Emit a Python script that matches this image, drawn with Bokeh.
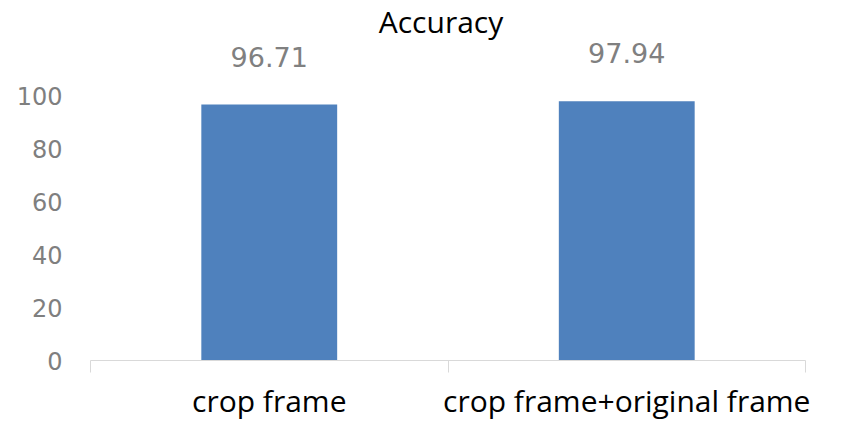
from bokeh.plotting import figure
from bokeh.models import (ColumnDataSource, Range1d, LinearAxis, FixedTicker, LabelSet, Label)
from bokeh.core.properties import value
from bokeh.embed import file_html
from bokeh.resources import INLINE

title = "Accuracy"
categories = ["crop frame", "crop frame+original frame"]
accuracy = [96.71, 97.94]
value_labels = ["96.71", "97.94"]
y_ticks = [0, 20, 40, 60, 80, 100]

# category slots: category i occupies [i, i+1] on the x axis
centers = [i + 0.5 for i in range(len(categories))]
edges = list(range(len(categories) + 1))

src = ColumnDataSource(dict(x=centers, acc=accuracy, lab=value_labels))

p = figure(x_range=Range1d(0, len(categories)), y_range=Range1d(0, 136),
           width=851, height=430, output_backend="svg", toolbar_location=None,
           x_axis_location=None, y_axis_location=None,
           min_border_left=90, min_border_right=46, min_border_top=0, min_border_bottom=70)
p.outline_line_color = None
p.xgrid.grid_line_color = None
p.ygrid.grid_line_color = None

p.vbar(x="x", top="acc", width=0.38, source=src, fill_color="#4F81BD", line_color=None)

labels = LabelSet(x="x", y="acc", text="lab", source=src, text_align="center",
                  text_baseline="middle", y_offset=48, text_font=value("DejaVu Sans"),
                  text_font_size=value("27px"), text_color=value("#808080"))
p.add_layout(labels)

p.add_layout(Label(x=len(categories) / 2, y=128, x_offset=-7, text=title, text_align="center",
                   text_baseline="alphabetic", text_font="Open Sans", text_font_size="30px",
                   text_color="#000000"))

yax = LinearAxis(ticker=FixedTicker(ticks=y_ticks))
yax.axis_line_color = None
yax.major_tick_line_color = None
yax.minor_tick_line_color = None
yax.major_tick_out = 0
yax.major_label_text_font = "DejaVu Sans"
yax.major_label_text_font_size = "24px"
yax.major_label_text_color = "#7f7f7f"
yax.major_label_standoff = 28
p.add_layout(yax, "left")

cax = LinearAxis(ticker=FixedTicker(ticks=centers, minor_ticks=edges),
                 major_label_overrides={c: n for c, n in zip(centers, categories)})
cax.axis_line_color = "#d9d9d9"
cax.major_tick_line_color = None
cax.major_tick_out = 12
cax.major_tick_in = 0
cax.minor_tick_line_color = "#d9d9d9"
cax.minor_tick_out = 12
cax.minor_tick_in = 0
cax.major_label_text_font = "Open Sans"
cax.major_label_text_font_size = "30px"
cax.major_label_text_line_height = 1.0
cax.major_label_text_color = "#000000"
cax.major_label_standoff = 7
p.add_layout(cax, "below")

open("out.html", "w").write(file_html(p, INLINE))
